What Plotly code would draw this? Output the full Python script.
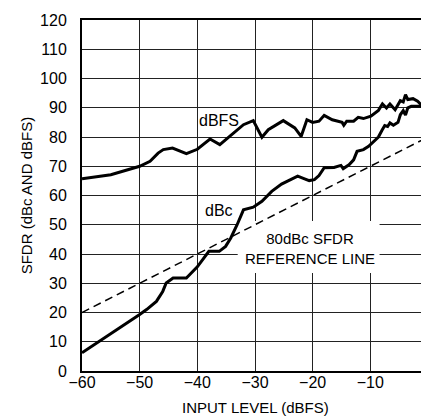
import plotly.graph_objects as go

# dBFS curve
x_dbfs = [-60, -55, -50, -48.2, -46.8, -45.9, -44.3, -41.9, -40, -37.8, -36.1, -34, -32, -30.3,
          -28.8, -27.7, -25.1, -23.1, -22, -21, -20, -18.9, -18, -16.6, -14.9, -14.6, -14.1,
          -12.9, -12.1, -11.2, -9.9, -8.6, -7.9, -7.2, -6.6, -5.7, -4.8, -4.3, -3.9, -3.5,
          -2.6, -1.8, -1.2, -0.3]
y_dbfs = [65.7, 67.1, 70.0, 71.7, 74.5, 75.7, 76.2, 74.3, 75.8, 79.3, 77.4, 80.8, 84.2, 85.6,
          79.9, 82.5, 85.6, 83.1, 80.2, 85.9, 85.0, 85.4, 87.4, 85.9, 85.0, 84.0, 85.4,
          85.4, 86.7, 86.3, 87.1, 89.1, 91.3, 89.9, 91.3, 89.3, 92.4, 92.0, 94.5, 92.8,
          93.1, 92.2, 91.0, 93.3]

# dBc curve
x_dbc = [-60, -55, -50, -48.8, -47.1, -46, -45.4, -44.2, -41.9, -40, -38, -36.2, -35.1, -34.2,
         -33.1, -32, -30.3, -28.8, -27.1, -25.4, -23.7, -22.6, -21.4, -20.6, -19.7, -18.9,
         -18, -16.3, -15.1, -14.7, -13.7, -12.9, -12.3, -11.2, -10.3, -9.5, -8.6, -8.0,
         -7.5, -7.0, -6.6, -6.0, -5.2, -4.8, -4.3, -3.9, -3.5, -2.9, -1.2, -0.3]
y_dbc = [6.2, 12.6, 19.3, 21.0, 23.8, 27.2, 30.1, 31.8, 31.8, 35.6, 40.9, 40.9, 42.6, 45.5,
         50.0, 55.1, 56.0, 58.0, 61.4, 63.9, 65.4, 66.6, 65.7, 65.1, 65.4, 66.8,
         69.5, 69.6, 70.3, 69.2, 70.5, 72.2, 75.1, 75.7, 76.8, 78.2, 80.0, 82.2,
         83.9, 83.6, 84.8, 84.0, 85.0, 87.6, 89.0, 87.5, 90.0, 90.5, 90.5, 93.3]

# 80dBc SFDR reference line
x_ref = [-60, 0]
y_ref = [20, 80]

x_ticks = [-60, -50, -40, -30, -20, -10, 0]
x_ticktext = ["\u221260", "\u221250", "\u221240", "\u221230", "\u221220", "\u221210", "0"]
y_ticks = [0, 10, 20, 30, 40, 50, 60, 70, 80, 90, 100, 110, 120]

x_title = "INPUT LEVEL (dBFS)"
y_title = "SFDR (dBc AND dBFS)"

FONT = "Liberation Sans, Arial, sans-serif"

fig = go.Figure()
fig.add_trace(go.Scatter(x=x_ref, y=y_ref, mode="lines",
                         line=dict(color="black", width=1.5, dash="8px,5px"),
                         showlegend=False, hoverinfo="skip"))
fig.add_trace(go.Scatter(x=x_dbc, y=y_dbc, mode="lines",
                         line=dict(color="black", width=3), showlegend=False))
fig.add_trace(go.Scatter(x=x_dbfs, y=y_dbfs, mode="lines",
                         line=dict(color="black", width=3), showlegend=False))

# white patch behind the reference-line label (hides gridlines only, curves stay on top)
fig.add_shape(type="rect", xref="x", yref="y", x0=-33, x1=-8.4, y0=33.5, y1=51.3,
              fillcolor="white", line=dict(width=0), layer="between")

fig.add_annotation(x=-36.3, y=85.8, text="dBFS", showarrow=False,
                   font=dict(size=16, color="black", family=FONT))
fig.add_annotation(x=-36.3, y=54.8, text="dBc", showarrow=False,
                   font=dict(size=16, color="black", family=FONT))
fig.add_annotation(x=-20.4, y=42.0, text="80dBc SFDR<br>REFERENCE LINE", showarrow=False,
                   font=dict(size=15, color="black", family=FONT))

# axis titles
fig.add_annotation(xref="paper", yref="paper", x=0.5, y=-0.105, text=x_title,
                   showarrow=False, xanchor="center", yanchor="middle", borderpad=0,
                   font=dict(size=15, color="black", family=FONT))
fig.add_annotation(xref="paper", yref="paper", x=-0.1595, y=0.5, text=y_title,
                   showarrow=False, xanchor="center", yanchor="middle", textangle=-90,
                   borderpad=0, font=dict(size=15, color="black", family=FONT))

fig.update_layout(
    width=429, height=418,
    margin=dict(l=74, r=4, t=12, b=55),
    paper_bgcolor="white", plot_bgcolor="white",
    font=dict(family=FONT, size=16, color="black"),
)
fig.update_xaxes(range=[-60, 0], tickvals=x_ticks, ticktext=x_ticktext,
                 showgrid=True, gridcolor="#222", gridwidth=1, zeroline=False,
                 showline=True, linecolor="black", linewidth=2, mirror=True,
                 ticks="", ticklabelstandoff=-4)
fig.update_yaxes(range=[0, 120], tickvals=y_ticks,
                 showgrid=True, gridcolor="#222", gridwidth=1, zeroline=False,
                 showline=True, linecolor="black", linewidth=2, mirror=True,
                 ticks="", ticklabelstandoff=10)

fig.write_html("out.html")
